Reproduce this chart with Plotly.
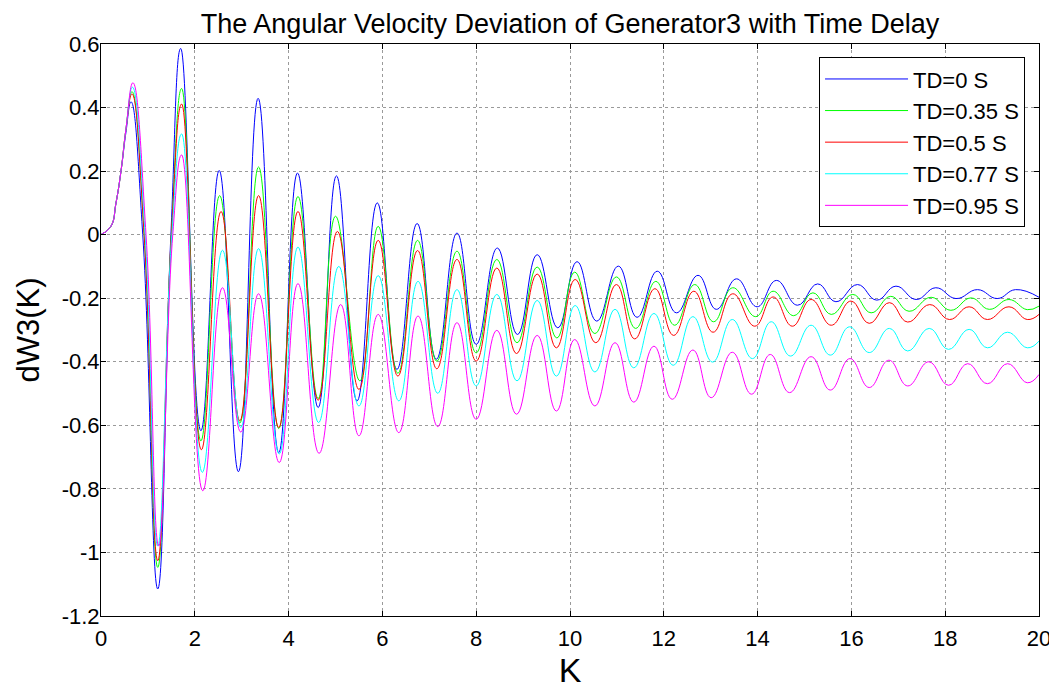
import plotly.graph_objects as go

# ---- data (extrema and a few crossing points) ----
t_td0 = [0, 0.21, 0.32, 0.43, 0.53, 0.64, 0.89, 1.21, 1.49, 1.70, 2.13, 2.52, 2.93, 3.35, 3.79, 4.19, 4.63,
         5.02, 5.46, 5.89, 6.31, 6.74, 7.15, 7.59, 8.00, 8.45, 8.88, 9.30, 9.74, 10.15, 10.57, 11.03, 11.43,
         11.86, 12.27, 12.73, 13.12, 13.55, 13.99, 14.40, 14.85, 15.28, 15.67, 16.13, 16.54, 16.95, 17.38,
         17.80, 18.23, 18.69, 19.11, 19.50, 20.0]
y_td0 = [0, 0.026, 0.10, 0.204, 0.32, 0.418, 0.0, -1.115, 0.0, 0.586, -0.617, 0.202, -0.746, 0.429, -0.686, 0.194,
         -0.544, 0.185, -0.523, 0.100, -0.424, 0.035, -0.392, 0.005, -0.345, -0.042, -0.314, -0.063, -0.293,
         -0.085, -0.272, -0.099, -0.260, -0.115, -0.246, -0.128, -0.235, -0.139, -0.227, -0.144, -0.222,
         -0.155, -0.211, -0.157, -0.206, -0.162, -0.204, -0.167, -0.201, -0.173, -0.201, -0.173, -0.197]

t_td035 = [0, 0.21, 0.32, 0.43, 0.53, 0.66, 0.92, 1.21, 1.50, 1.72, 2.13, 2.53, 2.96, 3.36, 3.79, 4.20, 4.63,
           5.00, 5.52, 5.91, 6.33, 6.75, 7.16, 7.59, 8.00, 8.44, 8.87, 9.30, 9.72, 10.10, 10.53, 10.99, 11.40,
           11.83, 12.23, 12.66, 13.06, 13.47, 13.96, 14.33, 14.77, 15.18, 15.57, 16.03, 16.42, 16.84, 17.23,
           17.70, 18.12, 18.55, 18.94, 19.36, 19.75, 20.0]
y_td035 = [0, 0.026, 0.10, 0.204, 0.33, 0.45, 0.0, -1.047, 0.0, 0.46, -0.649, 0.123, -0.593, 0.213, -0.61, 0.12,
           -0.516, 0.058, -0.46, 0.026, -0.436, -0.018, -0.398, -0.052, -0.372, -0.078, -0.34, -0.102, -0.325,
           -0.118, -0.311, -0.133, -0.295, -0.147, -0.285, -0.157, -0.274, -0.167, -0.258, -0.178, -0.255,
           -0.183, -0.251, -0.188, -0.246, -0.194, -0.241, -0.197, -0.238, -0.199, -0.235, -0.204, -0.236, -0.225]

t_td05 = [0, 0.21, 0.32, 0.43, 0.53, 0.66, 0.92, 1.21, 1.50, 1.72, 2.14, 2.56, 2.96, 3.36, 3.79, 4.20, 4.63,
          5.04, 5.50, 5.91, 6.33, 6.75, 7.16, 7.59, 8.00, 8.44, 8.86, 9.30, 9.71, 10.11, 10.55, 10.99, 11.38,
          11.81, 12.21, 12.64, 13.05, 13.47, 13.94, 14.33, 14.74, 15.14, 15.57, 15.99, 16.38, 16.81, 17.20,
          17.67, 18.09, 18.51, 18.90, 19.36, 19.75, 20.0]
y_td05 = [0, 0.026, 0.10, 0.204, 0.33, 0.443, 0.0, -1.026, 0.0, 0.411, -0.677, 0.073, -0.586, 0.123, -0.607, 0.073,
          -0.521, 0.01, -0.487, -0.018, -0.445, -0.05, -0.422, -0.078, -0.398, -0.105, -0.374, -0.124, -0.356,
          -0.141, -0.34, -0.157, -0.328, -0.17, -0.317, -0.178, -0.307, -0.186, -0.288, -0.196, -0.288,
          -0.204, -0.285, -0.209, -0.279, -0.214, -0.275, -0.22, -0.267, -0.227, -0.267, -0.227, -0.267, -0.251]

t_td077 = [0, 0.21, 0.32, 0.43, 0.53, 0.67, 0.94, 1.21, 1.51, 1.72, 2.16, 2.59, 2.98, 3.36, 3.80, 4.20, 4.64,
           5.07, 5.50, 5.91, 6.35, 6.76, 7.18, 7.59, 8.00, 8.44, 8.87, 9.30, 9.71, 10.11, 10.53, 10.96, 11.36,
           11.79, 12.20, 12.62, 13.04, 13.46, 13.89, 14.29, 14.70, 15.14, 15.55, 15.96, 16.38, 16.81, 17.20,
           17.66, 18.07, 18.51, 18.90, 19.33, 19.75, 20.0]
y_td077 = [0, 0.026, 0.10, 0.204, 0.33, 0.464, 0.0, -0.98, 0.0, 0.317, -0.748, -0.049, -0.607, -0.044, -0.69, -0.039,
           -0.591, -0.10, -0.539, -0.129, -0.523, -0.147, -0.499, -0.173, -0.476, -0.188, -0.46, -0.207, -0.445,
           -0.223, -0.432, -0.235, -0.419, -0.248, -0.411, -0.258, -0.401, -0.267, -0.39, -0.274, -0.382,
           -0.285, -0.379, -0.29, -0.371, -0.295, -0.366, -0.295, -0.361, -0.298, -0.356, -0.307, -0.356, -0.335]

t_td095 = [0, 0.21, 0.32, 0.43, 0.53, 0.68, 0.96, 1.23, 1.53, 1.72, 2.17, 2.59, 2.98, 3.36, 3.80, 4.20, 4.65,
           5.11, 5.50, 5.91, 6.35, 6.76, 7.18, 7.59, 8.00, 8.44, 8.86, 9.30, 9.71, 10.10, 10.53, 10.96, 11.36,
           11.79, 12.18, 12.62, 13.01, 13.46, 13.87, 14.27, 14.68, 15.14, 15.55, 15.97, 16.38, 16.80, 17.20,
           17.65, 18.07, 18.48, 18.90, 19.33, 19.75, 20.0]
y_td095 = [0, 0.026, 0.10, 0.204, 0.33, 0.478, 0.0, -0.98, 0.0, 0.251, -0.806, -0.167, -0.621, -0.186, -0.717, -0.154,
           -0.688, -0.22, -0.633, -0.251, -0.623, -0.256, -0.604, -0.277, -0.581, -0.301, -0.565, -0.317, -0.555,
           -0.33, -0.539, -0.34, -0.527, -0.351, -0.518, -0.363, -0.513, -0.37, -0.502, -0.377, -0.497,
           -0.384, -0.489, -0.39, -0.481, -0.395, -0.476, -0.4, -0.474, -0.406, -0.469, -0.406, -0.466, -0.44]

series_names = ["TD=0 S", "TD=0.35 S", "TD=0.5 S", "TD=0.77 S", "TD=0.95 S"]
series_t = [t_td0, t_td035, t_td05, t_td077, t_td095]
series_y = [y_td0, y_td035, y_td05, y_td077, y_td095]
series_colors = ["#0000FF", "#00FF00", "#FF0000", "#00FFFF", "#FF00FF"]

x_tickvals = [0, 2, 4, 6, 8, 10, 12, 14, 16, 18, 20]
x_ticktext = ["0", "2", "4", "6", "8", "10", "12", "14", "16", "18", "20"]
y_tickvals = [-1.2, -1.0, -0.8, -0.6, -0.4, -0.2, 0, 0.2, 0.4, 0.6]
y_ticktext = ["-1.2", "-1", "-0.8", "-0.6", "-0.4", "-0.2", "0", "0.2", "0.4", "0.6"]

FONT = "Liberation Sans, Arial, Helvetica, sans-serif"

fig = go.Figure()
for name, tt, yy, col in zip(series_names, series_t, series_y, series_colors):
    fig.add_trace(go.Scatter(x=tt, y=yy, name=name, mode="lines",
                             line=dict(color=col, width=1, shape="spline", smoothing=1.3)))

axis_common = dict(showline=True, linecolor="black", linewidth=1, mirror="ticks",
                   ticks="inside", ticklen=5, tickcolor="black", automargin=False,
                   showgrid=True, gridcolor="#9a9a9a", griddash="dot", gridwidth=1,
                   zeroline=False, tickfont=dict(family=FONT, size=22, color="black"))

fig.update_xaxes(range=[0, 20], tickvals=x_tickvals, ticktext=x_ticktext, ticklabelstandoff=3,
                 title=dict(text="K", font=dict(family=FONT, size=34, color="black"), standoff=9),
                 **axis_common)
fig.update_yaxes(range=[-1.2, 0.6], tickvals=y_tickvals, ticktext=y_ticktext, ticklabelstandoff=-4,
                 title=dict(text="dW3(K)", font=dict(family=FONT, size=31, color="black"), standoff=12),
                 **axis_common)

# the page is shown with an 8px body margin, so the figure is sized to the visible area
fig.update_layout(
    width=1049, height=681,
    margin=dict(l=93, r=18, t=36, b=73, autoexpand=False),
    paper_bgcolor="white", plot_bgcolor="white",
    font=dict(family=FONT, color="black"),
    title=dict(text="The Angular Velocity Deviation of Generator3 with Time Delay",
               font=dict(family=FONT, size=27, color="black"),
               x=0.5, xref="paper", xanchor="center", y=1.0, yanchor="top", pad=dict(t=6)),
    legend=dict(x=0.7655, y=0.977, xanchor="left", yanchor="top",
                bgcolor="white", bordercolor="black", borderwidth=1,
                font=dict(family=FONT, size=22, color="black"),
                itemwidth=83, entrywidth=223, entrywidthmode="pixels", tracegroupgap=0),
    showlegend=True,
)

fig.write_html("out.html")
